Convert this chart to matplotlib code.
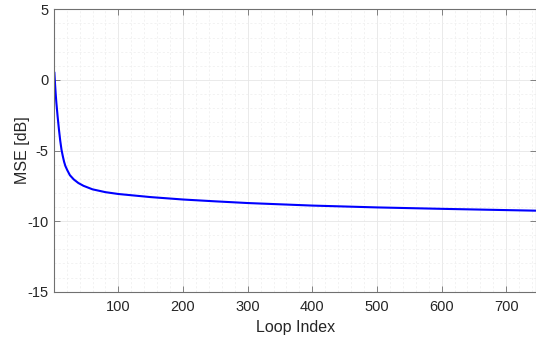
import numpy as np
import matplotlib
matplotlib.use("Agg")
import matplotlib.pyplot as plt
from matplotlib.ticker import MultipleLocator

plt.rcParams['font.family'] = ['Liberation Sans', 'DejaVu Sans']
plt.rcParams['axes.unicode_minus'] = False

# MSE curve
loop_idx = [1, 2, 3, 4, 5, 6, 8, 10, 12, 14, 16, 18, 21, 25, 31, 38, 46,
            60, 80, 100, 150, 200, 250, 300, 400, 500, 600, 700, 745]
mse_db = [0.5, -0.3, -1.0, -1.6, -2.1, -2.6, -3.5, -4.3, -4.95, -5.4, -5.8,
          -6.1, -6.4, -6.75, -7.05, -7.3, -7.5, -7.75, -7.95, -8.08, -8.3,
          -8.47, -8.6, -8.72, -8.9, -9.03, -9.13, -9.22, -9.26]

xticks = [100, 200, 300, 400, 500, 600, 700]
yticks = [-15, -10, -5, 0, 5]

fig = plt.figure(figsize=(5.36, 3.39), dpi=100)
ax = fig.add_axes([0.1015, 0.1395, 0.8985, 0.833])

ax.plot(loop_idx, mse_db, color=(0, 0, 1), lw=1.5)

ax.set_xlim(1, 746)
ax.set_ylim(-15, 5)
ax.set_xticks(xticks)
ax.set_yticks(yticks)
ax.xaxis.set_minor_locator(MultipleLocator(20))
ax.yaxis.set_minor_locator(MultipleLocator(1))

ax.grid(True, which='major', color='#e6e6e6', lw=0.6)
ax.grid(True, which='minor', color='#ededed', lw=0.5, ls=(0, (3, 3)))
ax.set_axisbelow(True)

for s in ax.spines.values():
    s.set_color('#707070')
    s.set_linewidth(0.8)

ax.tick_params(which='major', direction='in', length=4, width=0.6,
               color='#707070', top=True, right=True, labelsize=10.5,
               labelcolor='#262626')
ax.tick_params(axis='x', which='major', pad=6)
ax.tick_params(axis='y', which='major', pad=4)
ax.tick_params(which='minor', length=0)

ax.set_xlabel('Loop Index', fontsize=11.5, color='#262626', labelpad=4)
ax.set_ylabel('MSE [dB]', fontsize=11.5, color='#262626', labelpad=-1.5)

fig.savefig('out.png', dpi=100)
